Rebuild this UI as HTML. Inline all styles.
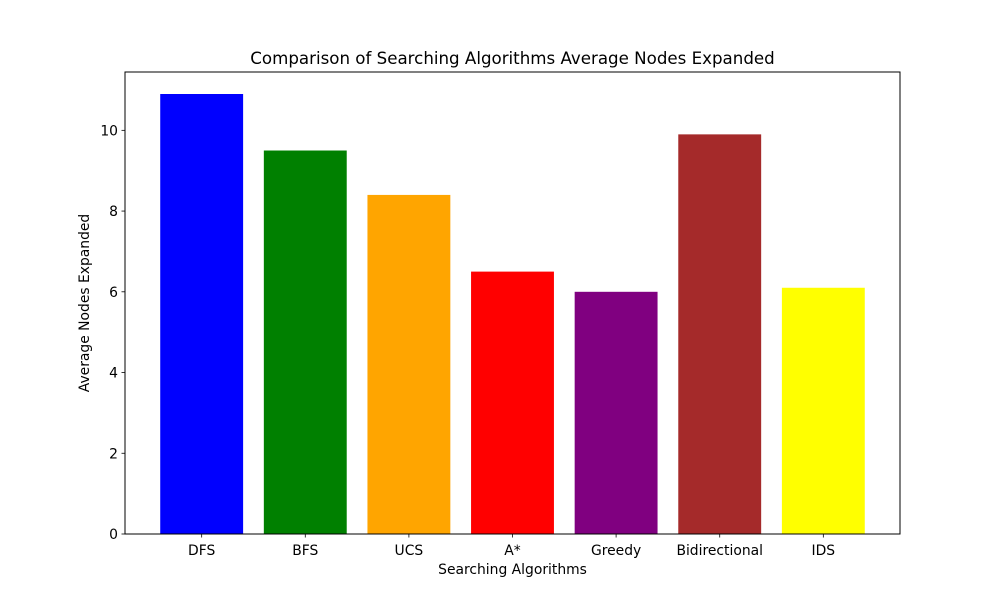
<!DOCTYPE html>
<html><head><meta charset="utf-8"><style>
body{margin:0;background:#fff;font-family:"Liberation Sans","DejaVu Sans",sans-serif;}
svg text{font-family:"DejaVu Sans","Liberation Sans",sans-serif;}
</style></head><body>
<svg id="chart" width="1000" height="600" viewBox="0 0 1000 600">
<rect width="1000" height="600" fill="#fff"/>
<g id="plot"></g>
</svg>
<script>
const categories=["DFS","BFS","UCS","A*","Greedy","Bidirectional","IDS"];
const values=[10.9,9.5,8.4,6.5,6.0,9.9,6.1];
const colors=["blue","green","orange","red","purple","brown","yellow"];
const yTicks=[0,2,4,6,8,10];
const L=125,R=900,T=72,B=534;
const yMax=Math.max(...values)*1.05;
const xMin=-0.74,xMax=categories.length-1+0.74;
const sx=v=>L+(v-xMin)/(xMax-xMin)*(R-L);
const sy=v=>B-v/yMax*(B-T);
const NS="http://www.w3.org/2000/svg";
const g=document.getElementById('plot');
function mk(tag,attrs,txt){const e=document.createElementNS(NS,tag);for(const k in attrs)e.setAttribute(k,attrs[k]);if(txt!==undefined)e.textContent=txt;g.appendChild(e);return e;}
values.forEach((v,i)=>{
 const e=mk('rect',{x:sx(i-0.4),y:sy(v),width:sx(i+0.4)-sx(i-0.4),height:B-sy(v),fill:colors[i]});
 
 
 const t=mk('line',{x1:sx(i),x2:sx(i),y1:B,y2:B+3.5,stroke:'#000','stroke-width':0.8});
 
 
 const l=mk('text',{x:sx(i),y:B+21,'text-anchor':'middle','font-size':13.89},categories[i]);
 
 
});
yTicks.forEach(v=>{
 const t=mk('line',{x1:L-3.5,x2:L,y1:sy(v),y2:sy(v),stroke:'#000','stroke-width':0.8});
 
 
 const l=mk('text',{x:L-7,y:sy(v)+5,'text-anchor':'end','font-size':13.89},v);
 
 
});
const fr=mk('rect',{x:L,y:T,width:R-L,height:B-T,fill:'none',stroke:'#000','stroke-width':1});


const ti=mk('text',{x:(L+R)/2,y:64,'text-anchor':'middle','font-size':16.67},'Comparison of Searching Algorithms Average Nodes Expanded');


const xt=mk('text',{x:(L+R)/2,y:574,'text-anchor':'middle','font-size':13.89},'Searching Algorithms');


const yt=mk('text',{x:89,y:(T+B)/2,'text-anchor':'middle','font-size':13.89,transform:'rotate(-90 89 '+((T+B)/2)+')'},'Average Nodes Expanded');


</script>
</body></html>
